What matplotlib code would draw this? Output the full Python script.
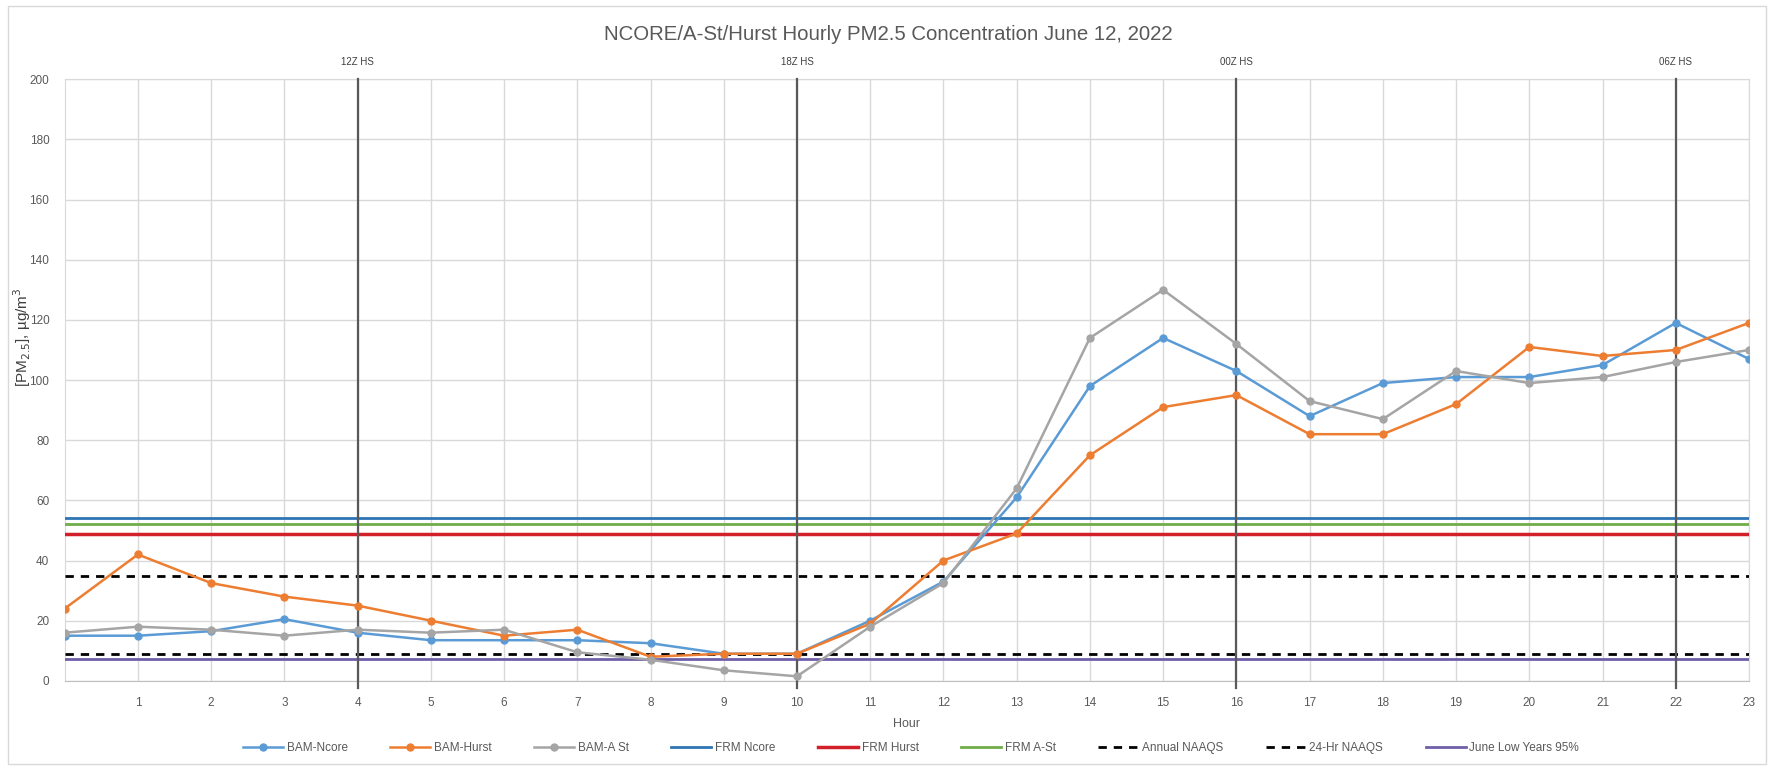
import matplotlib.pyplot as plt
from matplotlib.patches import Rectangle

plt.rcParams['font.family'] = ['Liberation Sans', 'DejaVu Sans']

# hourly BAM readings, ug/m3
hours = list(range(24))
bam_ncore = [15, 15, 16.5, 20.5, 16, 13.5, 13.5, 13.5, 12.5, 9, 9, 20, 33, 61,
             98, 114, 103, 88, 99, 101, 101, 105, 119, 107]
bam_hurst = [24, 42, 32.5, 28, 25, 20, 15, 17, 8, 9, 9, 19, 40, 49,
             75, 91, 95, 82, 82, 92, 111, 108, 110, 119]
bam_ast = [16, 18, 17, 15, 17, 16, 17, 9.5, 7, 3.5, 1.5, 18, 32.5, 64,
           114, 130, 112, 93, 87, 103, 99, 101, 106, 110]

# reference levels
frm_ncore = 54
frm_hurst = 48.8
frm_ast = 52.3
naaqs_annual = 9
naaqs_24hr = 35
june_low95 = 7.3

# sounding times
hs_hours = [4, 10, 16, 22]
hs_labels = ['12Z HS', '18Z HS', '00Z HS', '06Z HS']

txt = '#595959'
grid = '#D9D9D9'

fig = plt.figure(figsize=(17.76, 7.66), dpi=100)
ax = fig.add_axes([0.0364, 0.1112, 0.9484, 0.7853])

ax.plot(hours, bam_ncore, color='#5B9BD5', lw=1.8, marker='o', ms=5, label='BAM-Ncore', zorder=5)
ax.plot(hours, bam_hurst, color='#ED7D31', lw=1.8, marker='o', ms=5, label='BAM-Hurst', zorder=5)
ax.plot(hours, bam_ast, color='#A5A5A5', lw=1.8, marker='o', ms=5, label='BAM-A St', zorder=5)

ax.axhline(frm_ncore, color='#2E75B6', lw=2, label='FRM Ncore', zorder=3)
ax.axhline(frm_hurst, color='#D2202A', lw=2.5, label='FRM Hurst', zorder=3)
ax.axhline(frm_ast, color='#70AD47', lw=2, label='FRM A-St', zorder=3)
ax.axhline(naaqs_annual, color='black', lw=2, ls=(0, (3, 2.5)), label='Annual NAAQS', zorder=3)
ax.axhline(naaqs_24hr, color='black', lw=2, ls=(0, (3, 2.5)), label='24-Hr NAAQS', zorder=3)
ax.axhline(june_low95, color='#6F5FA8', lw=2, label='June Low Years 95%', zorder=3)

for h, lab in zip(hs_hours, hs_labels):
    ax.axvline(h, color='#595959', lw=1.6, zorder=4, ymin=-0.012, clip_on=False)
    ax.text(h, 204, lab, ha='center', va='bottom', fontsize=7, color='#404040')

ax.set_xlim(0, 23)
ax.set_ylim(0, 200)
ax.set_xticks(range(1, 24))
ax.set_yticks(range(0, 201, 20))
ax.grid(True, color=grid, lw=1, zorder=0)
ax.set_axisbelow(True)
for s in ax.spines.values():
    s.set_color(grid)
ax.spines['bottom'].set_color('#BFBFBF')
ax.tick_params(length=0, colors=txt, labelsize=8.5)
ax.tick_params(axis='x', pad=12)
ax.tick_params(axis='y', pad=11)

ax.set_xlabel('Hour', fontsize=9, color=txt, labelpad=6)
fig.text(22 / 1776, 1 - 337 / 766, '[PM$_{2.5}$], µg/m$^3$', rotation=90,
         ha='center', va='center', fontsize=11, color='#404040')

fig.suptitle('NCORE/A-St/Hurst Hourly PM2.5 Concentration June 12, 2022',
             y=1 - 34 / 766, va='center', fontsize=14.7, color=txt)

leg = fig.legend(loc='center', bbox_to_anchor=(0.513, 1 - 748 / 766), ncol=9,
                 frameon=False, fontsize=8.5, handlelength=3.4, columnspacing=3.6,
                 handletextpad=0.3)
for t in leg.get_texts():
    t.set_color(txt)

fig.patches.append(Rectangle((8 / 1776, 1 - 764 / 766), 1758 / 1776, 758 / 766,
                             transform=fig.transFigure, fill=False,
                             edgecolor='#D9D9D9', lw=1))

fig.savefig('out.png', dpi=100)
